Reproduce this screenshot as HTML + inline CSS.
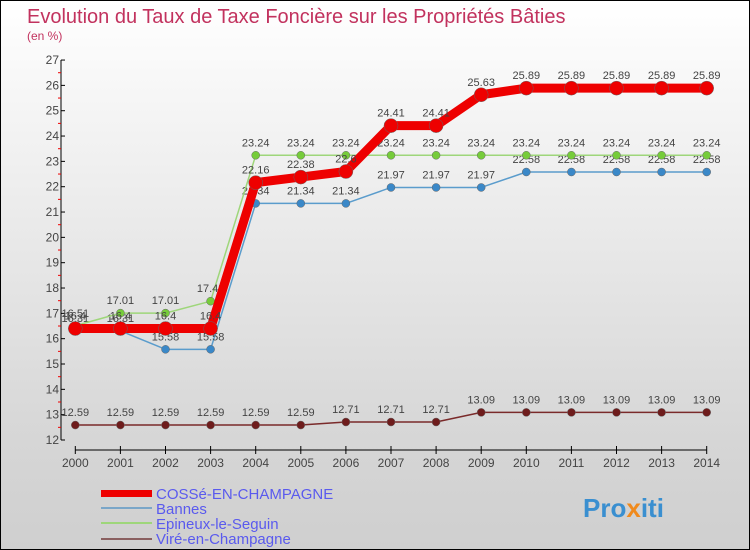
<!DOCTYPE html>
<html><head><meta charset="utf-8"><style>
body{margin:0}
#wrap{position:relative;width:748px;height:548px;border:1px solid #000;background:linear-gradient(#fff 0%,#f2f2f2 25%,#d6d6d6 80%,#cfcfcf 100%);font-family:"Liberation Sans",sans-serif;overflow:hidden}
</style></head><body>
<div id="wrap">
<svg id="svg" width="748" height="548" xmlns="http://www.w3.org/2000/svg">
<text x="26" y="22" font-size="20" fill="#c2325e">Evolution du Taux de Taxe Foncière sur les Propriétés Bâties</text>
<text x="26" y="39" font-size="12" fill="#c2325e">(en %)</text>
<g id="axes"></g><g id="series"></g>
<g>
<rect x="100" y="489" width="51" height="7" fill="#e00"/>
<text x="155" y="498" font-size="15" fill="#5a5aee">COSSé-EN-CHAMPAGNE</text>
<rect x="100" y="506" width="51" height="2" fill="#7aa6c8"/>
<text x="155" y="513" font-size="15" fill="#5a5aee">Bannes</text>
<rect x="100" y="521" width="51" height="2" fill="#9ed67a"/>
<text x="155" y="528" font-size="15" fill="#5a5aee">Epineux-le-Seguin</text>
<rect x="100" y="537" width="51" height="2" fill="#8a6060"/>
<text x="155" y="543" font-size="15" fill="#5a5aee">Viré-en-Champagne</text>
</g>
<text x="582" y="516" font-size="26" font-weight="bold" fill="#3a8fd0">Pro<tspan fill="#f08a1c">x</tspan>iti</text>
</svg>
</div>
<script>
const years=[2000,2001,2002,2003,2004,2005,2006,2007,2008,2009,2010,2011,2012,2013,2014];
const cosse=[16.4,16.4,16.4,16.4,22.16,22.38,22.6,24.41,24.41,25.63,25.89,25.89,25.89,25.89,25.89];
const bannes=[16.31,16.31,15.58,15.58,21.34,21.34,21.34,21.97,21.97,21.97,22.58,22.58,22.58,22.58,22.58];
const epineux=[16.51,17.01,17.01,17.48,23.24,23.24,23.24,23.24,23.24,23.24,23.24,23.24,23.24,23.24,23.24];
const vire=[12.59,12.59,12.59,12.59,12.59,12.59,12.71,12.71,12.71,13.09,13.09,13.09,13.09,13.09,13.09];
const yTicks=[12,13,14,15,16,17,18,19,20,21,22,23,24,25,26,27];
const NS='http://www.w3.org/2000/svg';
const X=i=>74.3+i*45.1, Y=v=>439-(v-12)*25.33;
function mk(t,a,p){const e=document.createElementNS(NS,t);for(const k in a)e.setAttribute(k,a[k]);p.appendChild(e);return e;}
const ax=document.getElementById('axes');
let l=mk('line',{x1:60,y1:Y(27),x2:60,y2:Y(12),stroke:'#000'},ax);


yTicks.forEach(v=>{
 let t=mk('line',{x1:60,y1:Y(v),x2:64,y2:Y(v),stroke:'#000'},ax);
 
 
 if(v<27){let r=mk('line',{x1:57,y1:Y(v+0.5),x2:60,y2:Y(v+0.5),stroke:'#e00'},ax);
 
 }
 let s=mk('text',{x:58,y:Y(v)+4,'font-size':12,'text-anchor':'end',fill:'#444'},ax);s.textContent=v;
 
 
});
let xl=mk('line',{x1:X(0),y1:449,x2:X(14),y2:449,stroke:'#000'},ax);


years.forEach((y,i)=>{
 let t=mk('line',{x1:X(i),y1:445,x2:X(i),y2:453,stroke:'#000'},ax);
 
 
 let s=mk('text',{x:X(i),y:466,'font-size':12,'text-anchor':'middle',fill:'#444'},ax);s.textContent=y;
 
 
});
const sg=document.getElementById('series');
function series(vals,color,w,r,name,dot){
 const g=mk('g',{},sg);
 
 
 const p=mk('polyline',{points:vals.map((v,i)=>X(i)+','+Y(v)).join(' '),fill:'none',stroke:color,'stroke-width':w,'stroke-linejoin':'round'},g);
 
 
 vals.forEach((v,i)=>{
  const c=mk('circle',{cx:X(i),cy:Y(v),r:r,fill:dot,stroke:'#666','stroke-width':0.5},g);
  
  
  const t=mk('text',{x:X(i),y:Y(v)-9,'font-size':11,'text-anchor':'middle',fill:'#444'},g);t.textContent=v;
  
  
 });
}
series(vire,'#7a2a2a',1.5,4,'vire','#6e1c1c');
series(bannes,'#5a9ccc',1.5,4,'bannes','#3a88c8');
series(epineux,'#9ed67a',1.5,4,'epineux','#76cc3a');
series(cosse,'#e00',9,7,'cosse','#e00');
</script>
</body></html>
